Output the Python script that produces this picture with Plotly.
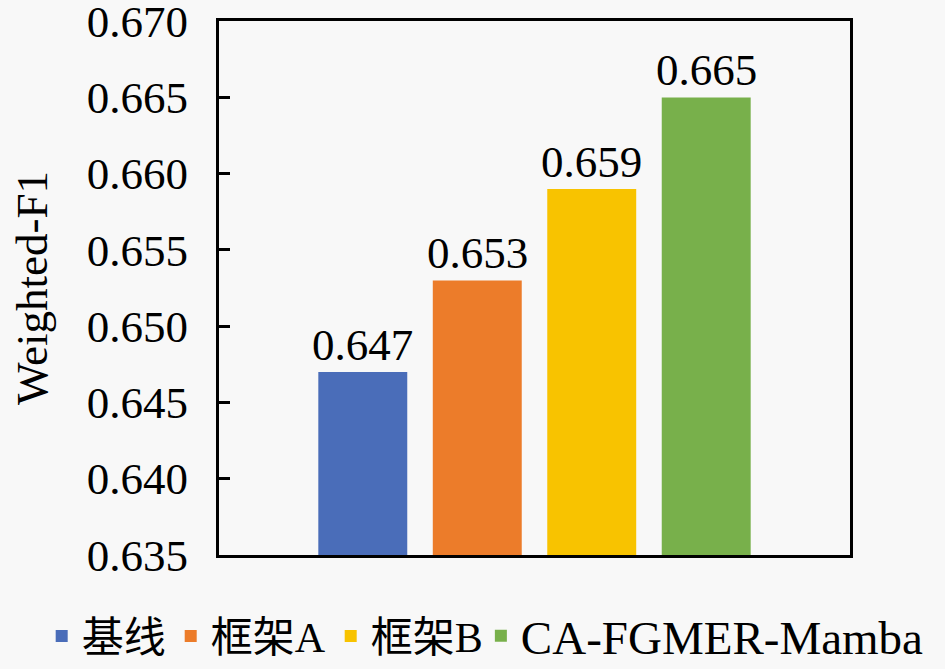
import plotly.graph_objects as go

# data
methods = ["基线", "框架A", "框架B", "CA-FGMER-Mamba"]
f1_scores = [0.647, 0.653, 0.659, 0.665]
colors = ["#4A6DB9", "#EC7C2A", "#F8C300", "#78B04B"]
y_ticks = [0.635, 0.640, 0.645, 0.650, 0.655, 0.660, 0.665, 0.670]

FONT = '"Liberation Serif", "Noto Sans CJK SC", serif'
FS = 45

fig = go.Figure()
for i, (name, val, col) in enumerate(zip(methods, f1_scores, colors)):
    fig.add_trace(go.Bar(
        x=[name], y=[val], name=name,
        marker=dict(color=col, line=dict(width=0)),
        # long last name gets its own legend box so the row does not wrap
        legend="legend2" if i == len(methods) - 1 else "legend",
    ))
    # value label just above the bar
    fig.add_annotation(x=name, y=val, text=f"{val:.3f}", showarrow=False,
                       yanchor="bottom", yshift=0,
                       font=dict(size=FS, family=FONT, color="black"))

leg_common = dict(orientation="h", y=-0.152, yanchor="middle", itemwidth=30,
                  tracegroupgap=0, bgcolor="rgba(0,0,0,0)", borderwidth=0)

fig.update_layout(
    width=945, height=669,
    barmode="overlay", bargap=0.223,
    paper_bgcolor="#f8f8f8", plot_bgcolor="#f8f8f8",
    font=dict(family=FONT, size=FS, color="black"),
    margin=dict(l=219, r=95, t=21, b=114, autoexpand=False),
    showlegend=True,
    legend=dict(x=-0.281, xanchor="left", font=dict(size=42, family=FONT), **leg_common),
    legend2=dict(x=0.415, xanchor="left", font=dict(size=47, family=FONT), **leg_common),
)
fig.update_xaxes(type="category", range=[-1.256, 4.256], showticklabels=False,
                 showline=True, linecolor="black", linewidth=3, automargin=False,
                 mirror=True, ticks="", showgrid=False)
fig.update_yaxes(range=[0.635, 0.67001], tickvals=y_ticks, tickformat=".3f",
                 ticklabeloverflow="allow", automargin=False,
                 showline=True, linecolor="black", linewidth=3, mirror=True,
                 ticks="inside", ticklen=11, tickwidth=3, tickcolor="black",
                 showgrid=False, zeroline=False, ticklabelstandoff=19,
                 title=dict(text="Weighted-F1", standoff=26, font=dict(size=FS)))

# drop the browser's default body margin so the figure sits at the page corner
fig.write_html("out.html", config={"displayModeBar": False},
               post_script="document.body.style.margin='0';")
